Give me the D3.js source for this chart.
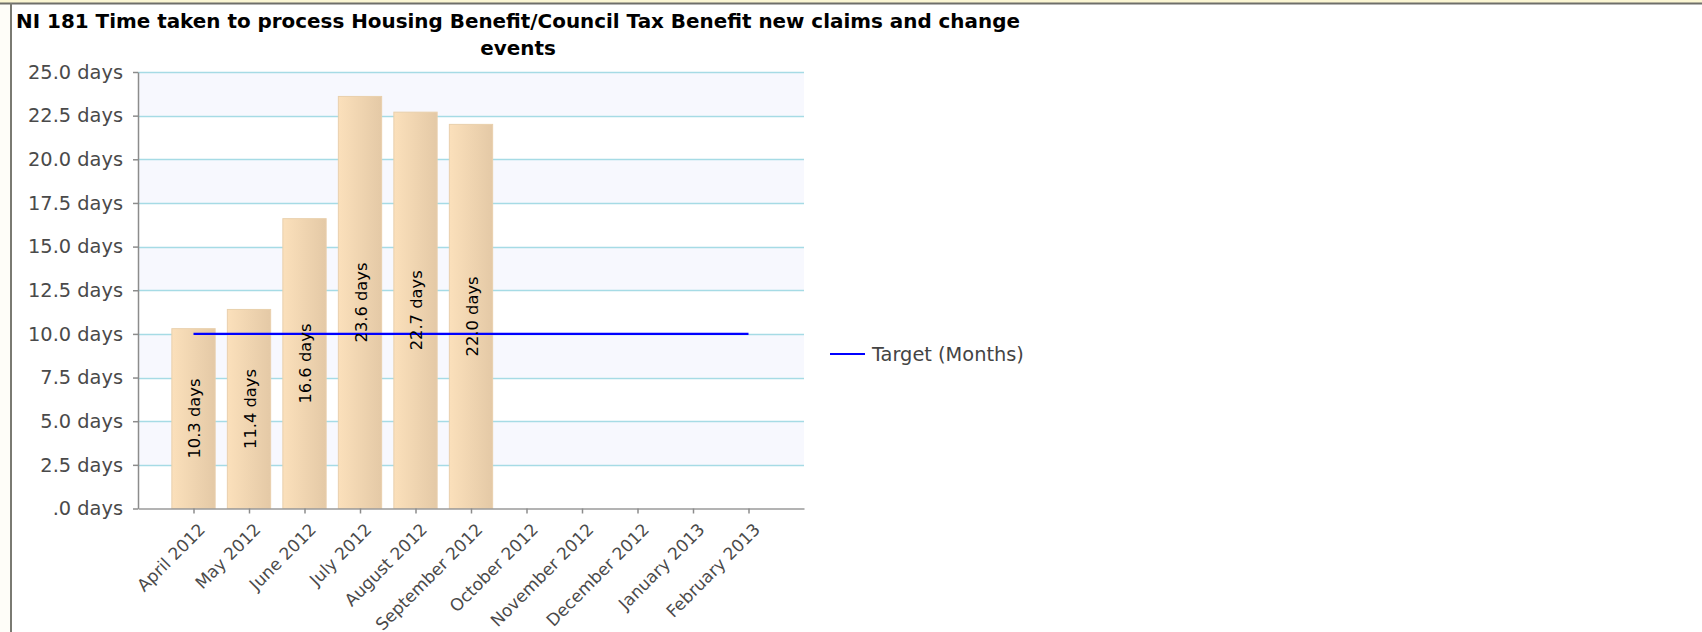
<!DOCTYPE html>
<html>
<head>
<meta charset="utf-8">
<script src="https://cdn.jsdelivr.net/npm/d3@7"></script>
<style>
  html, body { margin: 0; padding: 0; background: #ffffff; }
  svg { display: block; }
  text { font-family: "DejaVu Sans", Verdana, sans-serif; }
</style>
</head>
<body>
<svg id="chart" width="1702" height="632"></svg>
<script>
// ---- data ----
const categories = ["April 2012", "May 2012", "June 2012", "July 2012", "August 2012",
  "September 2012", "October 2012", "November 2012", "December 2012", "January 2013", "February 2013"];
const actualValues = [10.3, 11.4, 16.6, 23.6, 22.7, 22.0];
const targetValues = [10, 10, 10, 10, 10, 10, 10, 10, 10, 10, 10];
const yTickValues = [0, 2.5, 5, 7.5, 10, 12.5, 15, 17.5, 20, 22.5, 25];
const yTickLabels = [".0 days", "2.5 days", "5.0 days", "7.5 days", "10.0 days", "12.5 days",
  "15.0 days", "17.5 days", "20.0 days", "22.5 days", "25.0 days"];
const titleLines = ["NI 181 Time taken to process Housing Benefit/Council Tax Benefit new claims and change", "events"];
const legendLabel = "Target (Months)";

// ---- layout ----
const W = 1702, H = 632;
const plot = { left: 138, right: 804, top: 72, bottom: 508.5 };

const svg = d3.select("#chart");

// measure helper
function fitSize(str, weight, targetWidth) {
  const t = svg.append("text").attr("font-size", 20).attr("font-weight", weight).text(str);
  const w = t.node().getComputedTextLength();
  t.remove();
  return 20 * targetWidth / w;
}

// frame
svg.append("rect").attr("x", 0).attr("y", 0).attr("width", W).attr("height", H).attr("fill", "#ffffff");
svg.append("rect").attr("x", 0).attr("y", 0).attr("width", 11).attr("height", H).attr("fill", "#fefdf8");
svg.append("rect").attr("x", 0).attr("y", 0).attr("width", W).attr("height", 3).attr("fill", "#fbf6d3");
svg.append("line").attr("x1", 0).attr("x2", W).attr("y1", 3.5).attr("y2", 3.5)
  .attr("stroke", "#6f6f6a").attr("stroke-width", 2);
svg.append("line").attr("x1", 11).attr("x2", 11).attr("y1", 3).attr("y2", H)
  .attr("stroke", "#7a7a72").attr("stroke-width", 2);

// scales
const x = d3.scalePoint().domain(categories).range([plot.left, plot.right]).padding(1);
const y = d3.scaleLinear().domain([0, 25]).range([plot.bottom, plot.top]);
const barW = x.step() * 0.78;

// defs
const defs = svg.append("defs");
const grad = defs.append("linearGradient").attr("id", "barGrad").attr("x1", "0%").attr("x2", "100%").attr("y1", "0%").attr("y2", "0%");
grad.append("stop").attr("offset", "0%").attr("stop-color", "#fbe0bb");
grad.append("stop").attr("offset", "100%").attr("stop-color", "#e4c9a6");

// bands
const bands = d3.range(yTickValues.length - 1);
svg.append("g").selectAll("rect").data(bands).join("rect")
  .attr("x", plot.left).attr("width", plot.right - plot.left)
  .attr("y", i => y(yTickValues[i + 1]))
  .attr("height", i => y(yTickValues[i]) - y(yTickValues[i + 1]))
  .attr("fill", i => (i % 2 === 1) ? "#f7f8fe" : "#ffffff");

// gridlines
svg.append("g").selectAll("line").data(yTickValues.slice(1)).join("line")
  .attr("x1", plot.left).attr("x2", plot.right)
  .attr("y1", d => Math.round(y(d)) + 0.5).attr("y2", d => Math.round(y(d)) + 0.5)
  .attr("stroke", "#a6dbe5").attr("stroke-width", 1.5);

// bars
const barData = actualValues.map((v, i) => ({ cat: categories[i], v }));
svg.append("g").selectAll("rect").data(barData).join("rect")
  .attr("x", d => x(d.cat) - barW / 2).attr("width", barW)
  .attr("y", d => y(d.v)).attr("height", d => y(0) - y(d.v))
  .attr("fill", "url(#barGrad)").attr("stroke", "#e9d0ac").attr("stroke-width", 1);

// target line
const line = d3.line().x((d, i) => x(categories[i])).y(d => y(d));
svg.append("path").datum(targetValues).attr("d", line)
  .attr("fill", "none").attr("stroke", "#0000ff").attr("stroke-width", 2.4);

// bar labels
const barFont = fitSize("10.3 days", "normal", 80);
svg.append("g").selectAll("text").data(barData).join("text")
  .attr("transform", d => `translate(${x(d.cat) + 1},${(y(d.v) + y(0)) / 2}) rotate(-90)`)
  .attr("text-anchor", "middle").attr("dominant-baseline", "central")
  .attr("font-size", barFont).attr("fill", "#000")
  .text(d => d3.format(".1f")(d.v) + " days");

// y axis
const yFont = fitSize("25.0 days", "normal", 95);
const yAxis = svg.append("g").attr("transform", `translate(${plot.left},0)`)
  .call(d3.axisLeft(y).tickValues(yTickValues).tickFormat((d, i) => yTickLabels[i])
    .tickSize(5).tickSizeOuter(0).tickPadding(10));
yAxis.select(".domain").attr("stroke", "#8c8c8c").attr("stroke-width", 1.5);
yAxis.selectAll(".tick line").attr("stroke", "#8c8c8c").attr("stroke-width", 1.5);
yAxis.selectAll(".tick text").attr("font-size", yFont).attr("fill", "#4a4a4a")
  .attr("font-family", "DejaVu Sans, sans-serif");

// x axis
const xFont = 17;
const xAxis = svg.append("g").attr("transform", `translate(0,${plot.bottom})`)
  .call(d3.axisBottom(x).tickSize(5).tickSizeOuter(0).tickPadding(8));
xAxis.select(".domain").attr("stroke", "#9a9a9a").attr("stroke-width", 1.5);
xAxis.selectAll(".tick line").attr("stroke", "#8c8c8c").attr("stroke-width", 1.5);
xAxis.selectAll(".tick text")
  .attr("font-size", xFont).attr("fill", "#4a4a4a").attr("font-family", "DejaVu Sans, sans-serif")
  .attr("text-anchor", "end").attr("dy", "0.35em")
  .attr("transform", "translate(8,18) rotate(-45)")
  .attr("y", 0).attr("x", 0);

// title
const titleFont = fitSize(titleLines[0], "bold", 1004);
const titleX = 518;
svg.append("g").selectAll("text").data(titleLines).join("text")
  .attr("x", titleX).attr("y", (d, i) => 28 + i * 27)
  .attr("text-anchor", "middle").attr("font-weight", "bold")
  .attr("font-size", titleFont).attr("fill", "#000").text(d => d);

// legend
const legFont = fitSize(legendLabel, "normal", 152);
const leg = svg.append("g").attr("transform", "translate(830,354)");
leg.append("line").attr("x1", 0).attr("x2", 35).attr("y1", 0).attr("y2", 0)
  .attr("stroke", "#0000ff").attr("stroke-width", 2);
leg.append("text").attr("x", 42).attr("y", 0).attr("dominant-baseline", "central")
  .attr("font-size", legFont).attr("fill", "#444").text(legendLabel);
</script>
</body>
</html>
